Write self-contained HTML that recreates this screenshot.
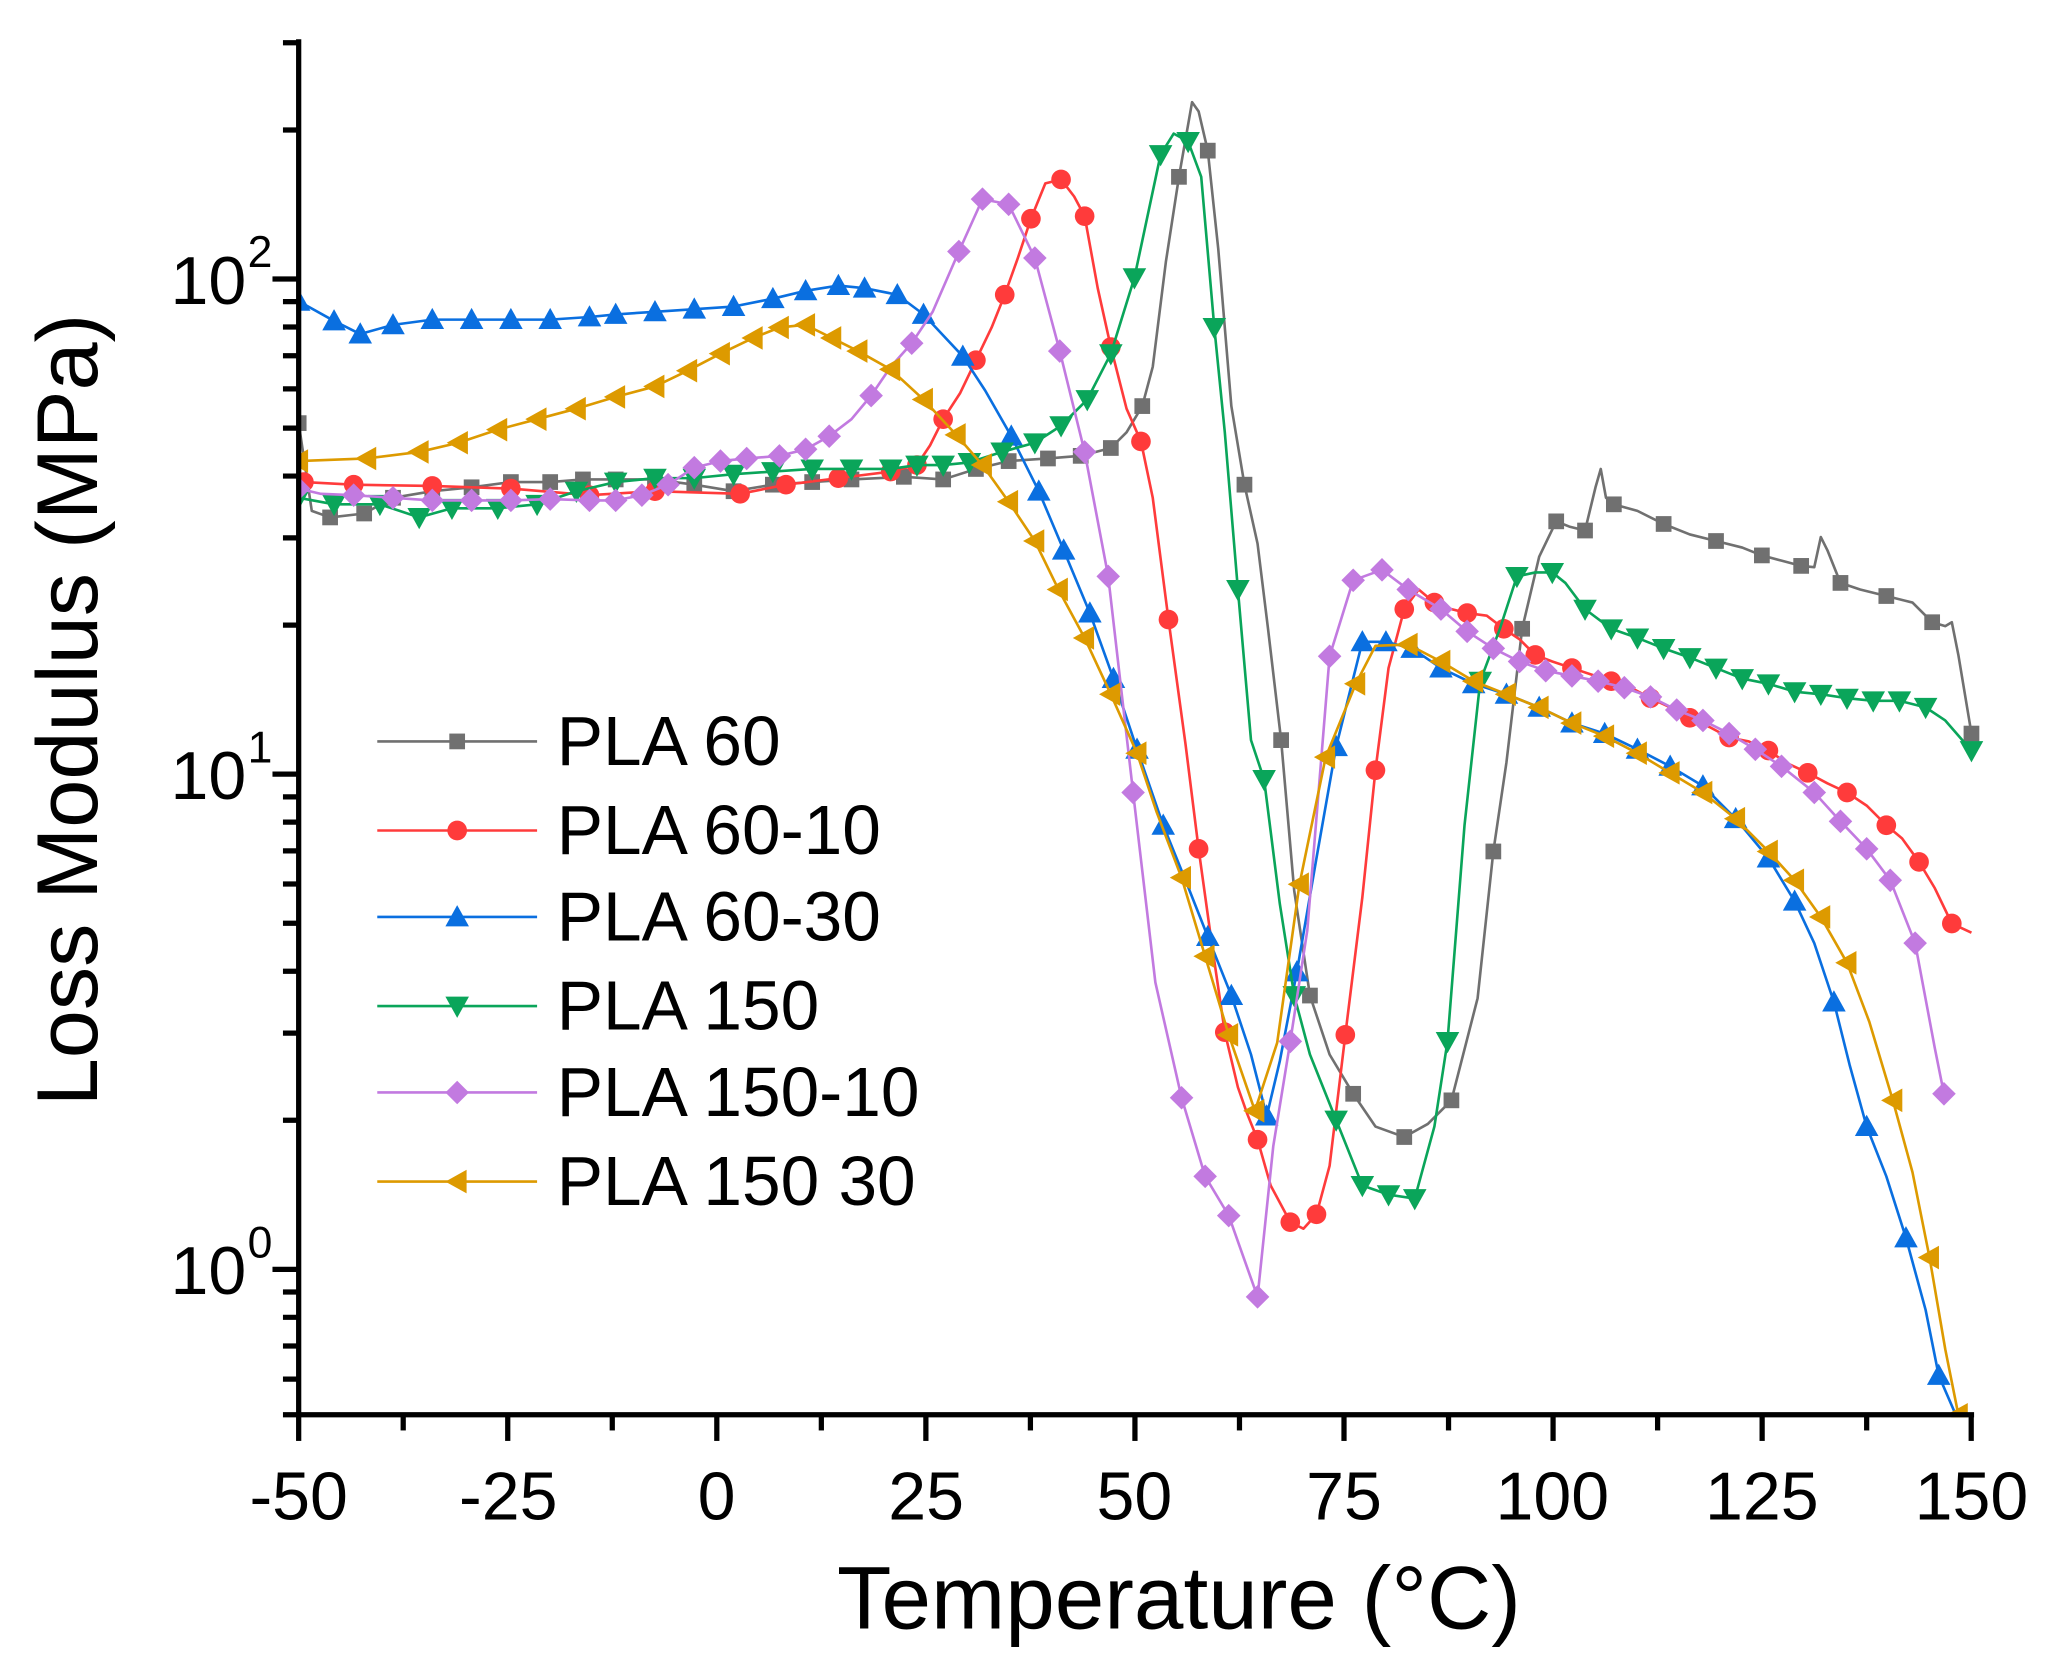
<!DOCTYPE html>
<html><head><meta charset="utf-8"><style>
html,body{margin:0;padding:0;background:#fff;}
svg{display:block;font-family:"Liberation Sans",Arial,sans-serif;}
</style></head><body>
<svg id="s" width="2054" height="1661" viewBox="0 0 1568 1268" xmlns="http://www.w3.org/2000/svg">
<rect width="1568" height="1268" fill="#fff"/>
<defs><clipPath id="c"><rect x="228" y="20" width="1290" height="1062"/></clipPath></defs>
<g id="series" clip-path="url(#c)"></g>
<g id="axes" stroke="#000" stroke-width="4" fill="none">
<line x1="228" y1="30" x2="228" y2="1082"/>
<line x1="226" y1="1080" x2="1507" y2="1080"/>
</g>
<g id="ticks" stroke="#000" stroke-width="4"></g>
<g font-size="52" fill="#000" text-anchor="middle">
<text x="228" y="1160">-50</text><text x="388" y="1160">-25</text><text x="547" y="1160">0</text>
<text x="707" y="1160">25</text><text x="866" y="1160">50</text><text x="1026" y="1160">75</text>
<text x="1185" y="1160">100</text><text x="1345" y="1160">125</text><text x="1505" y="1160">150</text>
</g>
<g font-size="52" fill="#000" text-anchor="end">
<text x="188" y="232">10</text><text x="188" y="610">10</text><text x="188" y="988">10</text>
</g>
<g font-size="34" fill="#000">
<text x="189" y="204">2</text><text x="189" y="582">1</text><text x="189" y="960">0</text>
</g>
<text x="900" y="1243" font-size="68" text-anchor="middle" fill="#000">Temperature (°C)</text>
<text transform="translate(74,542) rotate(-90)" font-size="66" text-anchor="middle" fill="#000">Loss Modulus (MPa)</text>
<g id="legend"></g>
<g font-size="53" fill="#000">
<text x="425" y="584">PLA 60</text><text x="425" y="652">PLA 60-10</text><text x="425" y="718">PLA 60-30</text>
<text x="425" y="786">PLA 150</text><text x="425" y="852">PLA 150-10</text><text x="425" y="920">PLA 150 30</text>
</g>
</svg>
<script>
var NS="http://www.w3.org/2000/svg";
function el(t,a,p){var e=document.createElementNS(NS,t);for(var k in a)e.setAttribute(k,a[k]);p.appendChild(e);return e;}
var tk=document.getElementById('ticks');
for(var i=0;i<=8;i++){var x=228+i*159.6;el('line',{x1:x,y1:1080,x2:x,y2:1100},tk);if(i<8)el('line',{x1:x+79.8,y1:1080,x2:x+79.8,y2:1092},tk);}
[213,591,969].forEach(function(y){el('line',{x1:208,y1:y,x2:228,y2:y},tk);});
[2,1,0,-1].forEach(function(d){var base=969-378*d;for(var k=2;k<=9;k++){var y=base-378*Math.log10(k);if(y>=30&&y<=1080)el('line',{x1:216,y1:y,x2:228,y2:y},tk);}});
el('line',{x1:216,y1:1080,x2:228,y2:1080},tk);
function P(s){return s.trim().split(/\s+/).map(function(p){return p.split(',').map(Number);});}
var S=[
{c:'#707070',m:'sq',r:6,w:2,d:P("228,323 238,390 252,395 278,392 300,380 330,375 360,372 390,368 420,368 445,366 470,366 500,366 530,370 560,375 590,370 620,368 650,366 690,364 720,366 745,358 770,352 800,350 825,348 848,342 860,330 872,310 880,280 890,200 900,135 910,78 915,85 922,115 930,190 940,310 950,370 960,415 968,480 978,565 988,680 1000,760 1015,805 1033,835 1050,860 1072,868 1090,858 1108,840 1128,762 1140,650 1150,582 1162,480 1175,425 1188,398 1198,402 1210,405 1218,372 1222,358 1226,380 1232,385 1250,390 1270,400 1290,408 1310,413 1330,418 1345,424 1360,428 1375,432 1385,433 1390,410 1395,420 1405,445 1420,450 1440,455 1460,460 1475,475 1485,478 1490,475 1495,500 1505,560")},
{c:'#ff3b3b',m:'ci',r:7.5,w:2,d:P("232,368 270,370 330,371 390,373 450,378 500,375 565,377 600,370 640,365 680,360 700,355 710,340 720,320 733,300 745,275 757,250 767,225 777,197 787,167 798,140 810,137 820,150 828,165 838,220 848,265 860,312 871,337 880,380 892,473 905,568 915,648 925,720 935,788 945,830 952,850 960,870 970,905 985,933 995,938 1005,927 1015,890 1027,790 1040,685 1050,588 1060,510 1072,465 1083,450 1095,460 1108,465 1120,468 1135,470 1148,480 1160,488 1172,500 1185,505 1200,510 1215,515 1230,520 1245,525 1260,533 1275,540 1290,548 1305,555 1320,563 1335,566 1350,573 1365,583 1380,590 1395,598 1410,605 1425,615 1440,630 1452,640 1465,658 1477,678 1490,705 1505,712")},
{c:'#0a6fe0',m:'tu',r:9,w:2,d:P("228,230 255,245 275,255 300,248 330,244 360,244 390,244 420,244 450,242 470,240 500,238 530,236 560,234 590,228 615,222 640,218 660,220 685,225 705,240 720,256 735,272 752,298 772,333 793,375 812,420 832,468 850,518 868,572 888,630 905,672 922,715 940,760 955,805 967,852 977,810 990,742 1005,655 1020,570 1040,490 1058,490 1078,495 1100,510 1125,522 1150,530 1175,540 1200,552 1225,560 1250,572 1275,585 1300,600 1325,625 1350,655 1370,688 1385,720 1400,765 1412,813 1425,860 1440,898 1455,945 1470,1000 1480,1050 1493,1080")},
{c:'#0aa55a',m:'td',r:9,w:2,d:P("228,380 255,385 290,385 320,395 345,388 380,388 410,385 440,375 470,368 500,365 530,365 560,362 590,360 620,358 650,358 680,358 700,355 720,355 740,353 765,345 790,338 810,325 830,305 848,270 866,212 886,118 896,102 907,108 917,135 927,250 935,330 945,450 955,565 965,595 977,690 988,760 1000,805 1020,855 1040,905 1060,912 1080,915 1095,860 1105,795 1118,630 1130,520 1145,480 1158,440 1172,437 1185,437 1195,445 1210,465 1230,480 1250,487 1270,495 1290,502 1310,510 1330,518 1350,522 1370,528 1390,530 1410,533 1430,535 1450,535 1470,540 1485,550 1505,573")},
{c:'#c27ae0',m:'di',r:9,w:2,d:P("228,373 245,377 270,378 300,380 330,382 360,382 390,382 420,381 450,382 470,382 490,378 510,370 530,357 550,352 570,350 595,348 615,343 633,333 650,320 665,302 680,280 696,262 712,238 732,192 750,152 770,156 790,197 809,268 828,345 846,440 865,605 882,750 902,838 920,898 938,928 960,990 972,875 985,795 998,710 1015,501 1033,443 1055,435 1075,450 1100,465 1120,482 1140,495 1160,505 1180,512 1200,516 1220,520 1240,525 1260,532 1280,542 1300,550 1320,560 1340,572 1360,585 1385,605 1405,627 1425,648 1443,672 1462,720 1477,800 1484,835")},
{c:'#dd9a00',m:'tl',r:9,w:2,d:P("228,352 280,350 320,345 350,338 380,328 410,320 440,312 470,303 500,295 525,283 550,270 575,258 595,250 615,248 635,258 655,268 680,282 705,305 730,332 750,355 770,383 790,413 808,450 828,487 848,530 868,575 883,620 902,670 920,730 938,790 958,848 975,796 992,675 1012,578 1035,522 1050,493 1075,492 1100,505 1125,520 1150,530 1175,540 1200,552 1225,562 1250,575 1275,590 1300,605 1325,625 1350,650 1370,672 1390,700 1410,735 1427,780 1445,840 1460,895 1473,960 1485,1030 1495,1080")}
];
function mk(g,t,x,y,r,c){
 if(t=='sq')el('rect',{x:x-r,y:y-r,width:2*r,height:2*r,fill:c},g);
 else if(t=='ci')el('circle',{cx:x,cy:y,r:r,fill:c},g);
 else if(t=='tu')el('polygon',{points:x+','+(y-r)+' '+(x+r)+','+(y+r*0.8)+' '+(x-r)+','+(y+r*0.8),fill:c},g);
 else if(t=='td')el('polygon',{points:x+','+(y+r)+' '+(x+r)+','+(y-r*0.8)+' '+(x-r)+','+(y-r*0.8),fill:c},g);
 else if(t=='di')el('polygon',{points:x+','+(y-r)+' '+(x+r)+','+y+' '+x+','+(y+r)+' '+(x-r)+','+y,fill:c},g);
 else if(t=='tl')el('polygon',{points:(x-r)+','+y+' '+(x+r*0.8)+','+(y-r)+' '+(x+r*0.8)+','+(y+r),fill:c},g);
}
var sg=document.getElementById('series');
S.forEach(function(s){
 el('polyline',{points:s.d.map(function(p){return p.join(',')}).join(' '),fill:'none',stroke:s.c,'stroke-width':s.w,'stroke-linejoin':'round'},sg);
 var g=el('g',{},sg);var last=-100;
 s.d.forEach(function(p,i){ if(p[0]-last>=(s.m=='sq'?22:18)||i==0){mk(g,s.m,p[0],p[1],s.r,s.c);last=p[0];}});
});
var lg=document.getElementById('legend');
[566,634,700,768,834,902].forEach(function(y,i){var s=S[i];el('line',{x1:288,y1:y,x2:410,y2:y,stroke:s.c,'stroke-width':2},lg);mk(lg,s.m,349,y,s.r,s.c);});
</script>
</body></html>
